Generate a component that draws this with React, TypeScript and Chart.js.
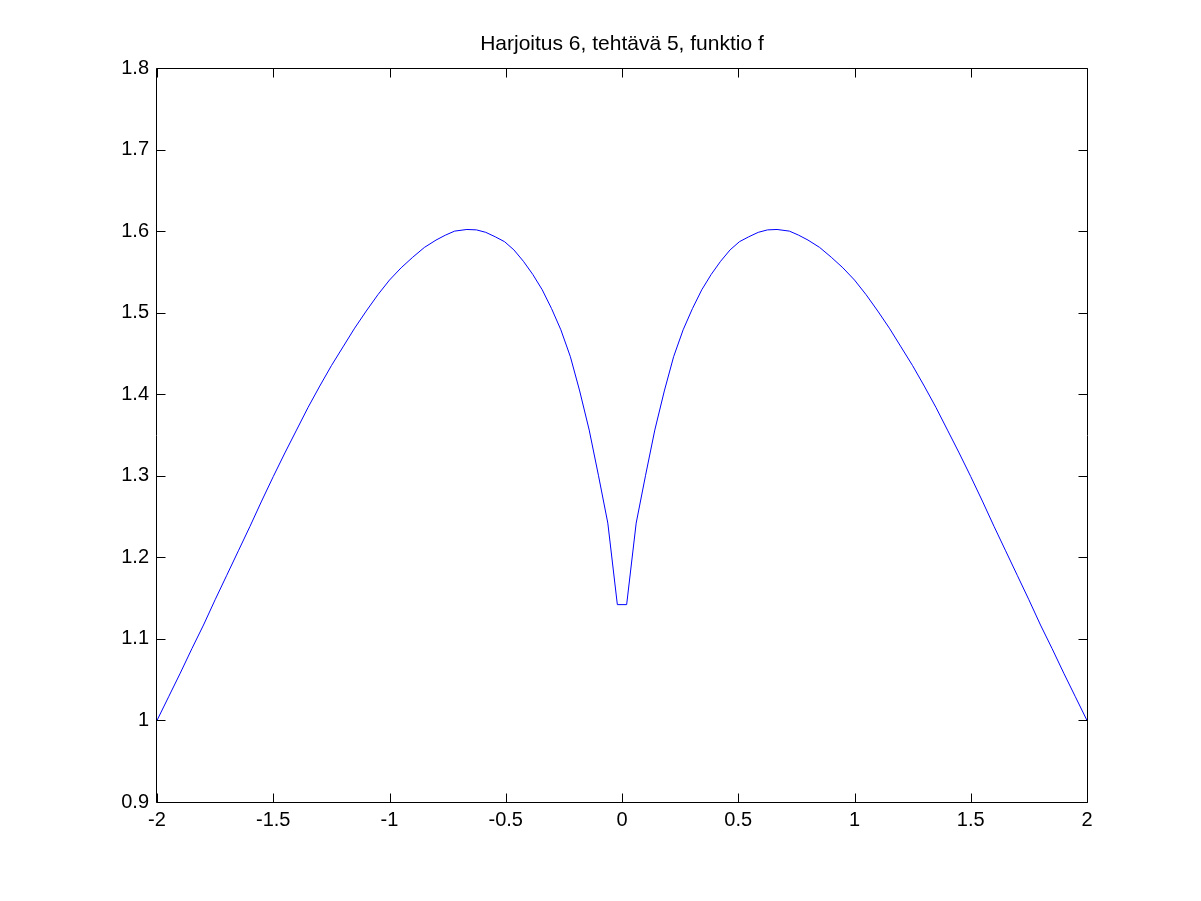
import React, { useEffect, useRef } from "react";
import { Chart, registerables } from "chart.js";

Chart.register(...registerables);

const TITLE = "Harjoitus 6, tehtävä 5, funktio f";

const xValues = [
  -2.0, -1.95, -1.9, -1.85, -1.8, -1.75, -1.7, -1.65, -1.6, -1.55, -1.5, -1.45, -1.4, -1.35, -1.3,
  -1.25, -1.2, -1.15, -1.1, -1.05, -1.0, -0.95, -0.9, -0.85, -0.8, -0.76, -0.72, -0.667, -0.626,
  -0.586, -0.545, -0.505, -0.465, -0.424, -0.384, -0.343, -0.303, -0.263, -0.222, -0.182, -0.141,
  -0.101, -0.061, -0.02,
  0.02, 0.061, 0.101, 0.141, 0.182, 0.222, 0.263, 0.303, 0.343, 0.384, 0.424, 0.465, 0.505, 0.545,
  0.586, 0.626, 0.667, 0.72, 0.76, 0.8, 0.85, 0.9, 0.95, 1.0, 1.05, 1.1, 1.15, 1.2, 1.25, 1.3,
  1.35, 1.4, 1.45, 1.5, 1.55, 1.6, 1.65, 1.7, 1.75, 1.8, 1.85, 1.9, 1.95, 2.0,
];

const yValues = [
  1.0, 1.029, 1.058, 1.088, 1.117, 1.148, 1.178, 1.208, 1.238, 1.269, 1.299, 1.328, 1.356, 1.384, 1.41,
  1.435, 1.458, 1.481, 1.502, 1.522, 1.54, 1.555, 1.568, 1.58, 1.589, 1.595, 1.6, 1.602, 1.6015,
  1.5985, 1.593, 1.587, 1.577, 1.563, 1.547, 1.528, 1.505, 1.479, 1.446, 1.404, 1.356,
  1.3, 1.242, 1.142,
  1.142, 1.242, 1.3, 1.356, 1.404, 1.446, 1.479, 1.505, 1.528, 1.547, 1.563, 1.577, 1.587, 1.593,
  1.5985, 1.6015, 1.602, 1.6, 1.595, 1.589, 1.58, 1.568, 1.555, 1.54, 1.522, 1.502, 1.481, 1.458, 1.435, 1.41,
  1.384, 1.356, 1.328, 1.299, 1.269, 1.238, 1.208, 1.178, 1.148, 1.117, 1.088, 1.058, 1.029, 1.0,
];

const xTickValues = [-2, -1.5, -1, -0.5, 0, 0.5, 1, 1.5, 2];
const xTickLabels = ["-2", "-1.5", "-1", "-0.5", "0", "0.5", "1", "1.5", "2"];
const yTickValues = [0.9, 1.0, 1.1, 1.2, 1.3, 1.4, 1.5, 1.6, 1.7, 1.8];
const yTickLabels = ["0.9", "1", "1.1", "1.2", "1.3", "1.4", "1.5", "1.6", "1.7", "1.8"];

const FONT = "'Liberation Sans', Arial, Helvetica, sans-serif";
const TICK_LEN = 9;

const boxPlugin = {
  id: "matlabBox",
  afterDraw(chart: any) {
    const { ctx, chartArea } = chart;
    const { left, right, top, bottom } = chartArea;
    const L = Math.round(left) - 0.5;
    const R = Math.round(right) + 0.5;
    const T = Math.round(top) + 0.5;
    const B = Math.round(bottom) + 0.5;
    ctx.save();
    ctx.strokeStyle = "#000";
    ctx.lineWidth = 1;
    ctx.beginPath();
    ctx.rect(L, T, R - L, B - T);
    const xs = chart.scales.x;
    const ys = chart.scales.y;
    xs.ticks.forEach((t: any) => {
      const px = Math.round(xs.getPixelForValue(t.value)) + 0.5;
      ctx.moveTo(px, B);
      ctx.lineTo(px, B - TICK_LEN);
      ctx.moveTo(px, T);
      ctx.lineTo(px, T + TICK_LEN);
    });
    ys.ticks.forEach((t: any) => {
      const py = Math.round(ys.getPixelForValue(t.value)) + 0.5;
      ctx.moveTo(L, py);
      ctx.lineTo(L + TICK_LEN, py);
      ctx.moveTo(R, py);
      ctx.lineTo(R - TICK_LEN, py);
    });
    ctx.stroke();
    ctx.restore();
  },
};

export default function App() {
  const canvasRef = useRef<HTMLCanvasElement | null>(null);

  useEffect(() => {
    const canvas = canvasRef.current;
    if (!canvas) return;
    const data = xValues.map((x, i) => ({ x, y: yValues[i] }));
    const chart = new Chart(canvas, {
      type: "scatter",
      data: {
        datasets: [
          {
            data,
            showLine: true,
            borderColor: "#0000ff",
            backgroundColor: "#0000ff",
            borderWidth: 1,
            pointRadius: 0,
            pointHoverRadius: 0,
            tension: 0,
          },
        ],
      },
      plugins: [boxPlugin],
      options: {
        responsive: false,
        animation: false,
        devicePixelRatio: 1,
        layout: { padding: { left: 0, right: 114, top: 0, bottom: 0 } },
        plugins: {
          legend: { display: false },
          tooltip: { enabled: false },
          title: {
            display: true,
            fullSize: false,
            text: TITLE,
            color: "#000",
            font: { family: FONT, size: 21, weight: "normal", lineHeight: 1.2 },
            padding: { top: 32, bottom: 10.8 },
          },
        },
        scales: {
          x: {
            type: "linear",
            min: -2,
            max: 2,
            grid: { display: false, drawTicks: false },
            border: { display: false },
            afterBuildTicks: (axis: any) => {
              axis.ticks = xTickValues.map((v) => ({ value: v }));
            },
            afterFit: (axis: any) => {
              axis.height = 99;
            },
            ticks: {
              color: "#000",
              font: { family: FONT, size: 20, lineHeight: 1 },
              padding: 8,
              maxRotation: 0,
              autoSkip: false,
              callback: (_v: any, i: number) => xTickLabels[i],
            },
          },
          y: {
            type: "linear",
            min: 0.9,
            max: 1.8,
            grid: { display: false, drawTicks: false },
            border: { display: false },
            afterBuildTicks: (axis: any) => {
              axis.ticks = yTickValues.map((v) => ({ value: v }));
            },
            afterFit: (axis: any) => {
              axis.width = 157;
            },
            ticks: {
              color: "#000",
              font: { family: FONT, size: 20, lineHeight: 1 },
              padding: 8,
              autoSkip: false,
              callback: (_v: any, i: number) => yTickLabels[i],
            },
          },
        },
      },
    } as any);
    return () => chart.destroy();
  }, []);

  return (
    <div style={{ position: "fixed", left: 0, top: 0, width: 1201, height: 901, background: "#fff" }}>
      <canvas ref={canvasRef} width={1201} height={901} style={{ display: "block" }} />
    </div>
  );
}
